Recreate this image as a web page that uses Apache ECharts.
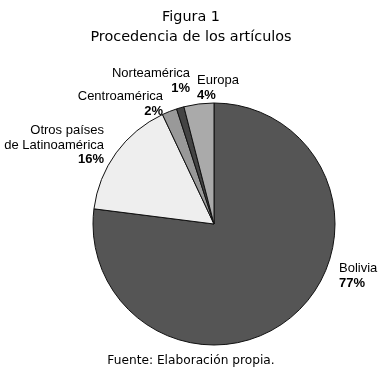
<!DOCTYPE html>
<html>
<head>
<meta charset="utf-8">
<script src="https://cdn.jsdelivr.net/npm/echarts@6/dist/echarts.min.js"></script>
<style>
  html, body { margin: 0; padding: 0; background: #fff; }
  #chart { width: 382px; height: 371px; }
</style>
</head>
<body>
<div id="chart"></div>
<script>
// datos del gráfico
const categorias = ['Bolivia', 'Otros países\nde Latinoamérica', 'Centroamérica', 'Norteamérica', 'Europa']
const porcentajes = [77, 16, 2, 1, 4]
const colores = ['#555555', '#eeeeee', '#999999', '#444444', '#aaaaaa']

// posición de cada etiqueta (x, y, alineación)
const posEtiquetas = [
  { x: 339, y: 276, align: 'left' },
  { x: 104, y: 145, align: 'right' },
  { x: 163, y: 104, align: 'right' },
  { x: 190, y: 81, align: 'right' },
  { x: 197, y: 88, align: 'left' }
]

const fuenteEtiq = 'Liberation Sans, Arial, sans-serif'

const chart = echarts.init(document.getElementById('chart'))

const option = {
  backgroundColor: '#FFFFFF',
  animation: false,
  title: [{
    text: 'Figura 1\nProcedencia de los artículos',
    left: 'center',
    top: 2,
    textStyle: {
      fontFamily: 'DejaVu Sans',
      fontWeight: 'normal',
      fontSize: 14.4,
      lineHeight: 20,
      color: '#000'
    }
  }, {
    text: 'Fuente: Elaboración propia.',
    left: 'center',
    top: 350,
    textStyle: {
      fontFamily: 'DejaVu Sans',
      fontWeight: 'normal',
      fontSize: 12.2,
      color: '#000'
    }
  }],
  series: [{
    type: 'pie',
    center: [214, 224],
    radius: [0, 121],
    startAngle: 90,
    clockwise: true,
    itemStyle: {
      borderColor: '#111',
      borderWidth: 1
    },
    labelLine: { show: false },
    label: {
      show: true,
      position: 'outside',
      overflow: 'none',
      fontFamily: fuenteEtiq,
      color: '#000',
      formatter: function (p) {
        return '{n|' + p.name.split('\n').join('}\n{n|') + '}\n{p|' + p.value + '%}'
      },
      rich: {
        n: { fontFamily: fuenteEtiq, fontSize: 13, lineHeight: 14.5, color: '#000' },
        p: { fontFamily: fuenteEtiq, fontSize: 13, lineHeight: 14.5, fontWeight: 'bold', color: '#000' }
      }
    },
    labelLayout: function (params) {
      const pos = posEtiquetas[params.dataIndex]
      return { x: pos.x, y: pos.y, align: pos.align, verticalAlign: 'middle' }
    },
    data: categorias.map(function (c, i) {
      return { name: c, value: porcentajes[i], itemStyle: { color: colores[i] } }
    })
  }]
}

chart.setOption(option)
</script>
</body>
</html>
